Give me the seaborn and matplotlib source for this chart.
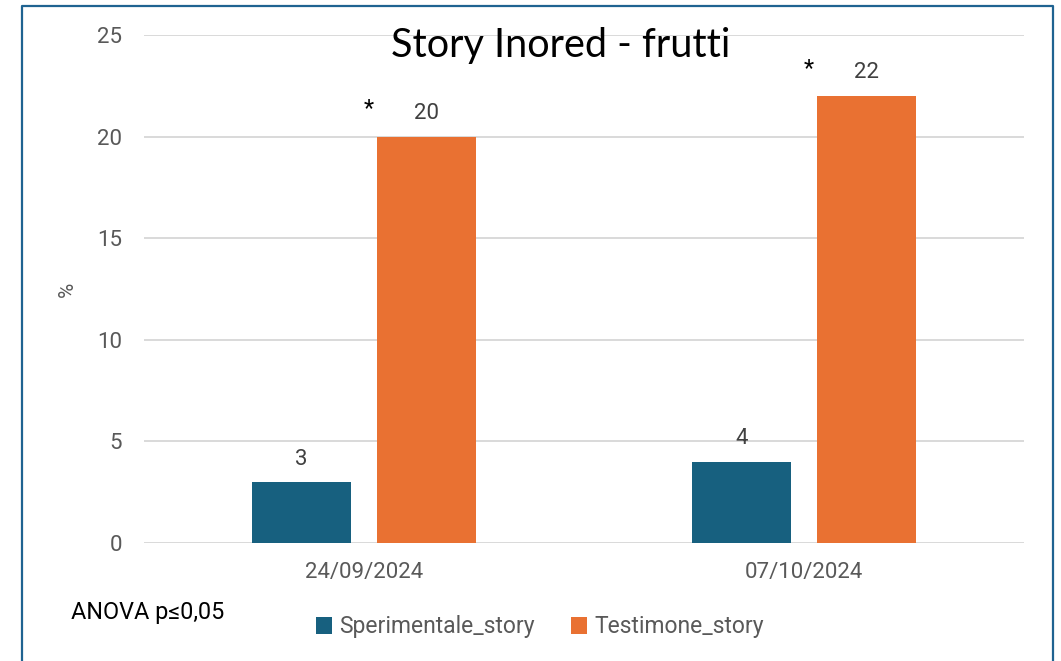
import matplotlib
matplotlib.use("Agg")
import matplotlib.pyplot as plt
from matplotlib.lines import Line2D
import seaborn as sns
import pandas as pd

# ---- data ----
dates = ["24/09/2024", "07/10/2024"]
series = ["Sperimentale_story", "Testimone_story"]
sperimentale = [3, 4]
testimone = [20, 22]
significance = ["*", "*"]
title = "Story Inored - frutti"
y_label = "%"
note = "ANOVA p\u22640,05"
colors = ["#17607F", "#E97132"]

df = pd.DataFrame({
    "Data": dates * 2,
    "Valore": sperimentale + testimone,
    "Serie": [series[0]] * len(dates) + [series[1]] * len(dates),
})

sns.set_theme(style="white")
plt.rcParams["font.family"] = ["Roboto", "DejaVu Sans"]

W, H = 1061, 661
fig = plt.figure(figsize=(W / 100, H / 100), dpi=100)
ax = fig.add_axes([144 / W, 1 - 543 / H, (1024 - 144) / W, (543 - 35) / H])

sns.barplot(data=df, x="Data", y="Valore", hue="Serie", palette=colors,
            width=0.568, gap=0.208, ax=ax, saturation=1, legend=True,
            linewidth=0)

ax.set_xlim(-0.5, 1.5)
ax.set_ylim(0, 25)
ax.set_yticks([0, 5, 10, 15, 20, 25])
ax.yaxis.grid(True, color="#D9D9D9", lw=1.4)
ax.set_axisbelow(True)
for s in ax.spines.values():
    s.set_visible(False)
ax.tick_params(axis="both", length=0, labelsize=16, colors="#595959")
ax.tick_params(axis="y", pad=16)
ax.tick_params(axis="x", pad=14)
ax.set_xlabel("")
ax.set_ylabel(y_label, fontsize=15, color="#595959", labelpad=14)

for cont in ax.containers:
    ax.bar_label(cont, fmt="%g", padding=9, fontsize=16, color="#404040")

# significance asterisks next to the Testimone bars
orange = ax.containers[1]
for bar, sig in zip(orange.patches, significance):
    ax.annotate(sig, xy=(bar.get_x(), bar.get_height()), xytext=(-6, 20),
                textcoords="offset points", ha="center", va="center",
                fontsize=17, color="black")

leg = ax.get_legend()
handles = leg.legend_handles
leg.remove()
fig.legend(handles, series, loc="center", bbox_to_anchor=(540 / W, 1 - 627 / H),
           ncol=2, frameon=False, fontsize=16.5, labelcolor="#595959",
           handlelength=0.7, handleheight=0.7, handletextpad=0.3,
           columnspacing=1.6)

fig.text(561 / W, 1 - 45 / H, title, ha="center", va="center", fontsize=28.5,
         family=["Lato", "DejaVu Sans"], color="black")
fig.text(71 / W, 1 - 613 / H, note, ha="left", va="center", fontsize=16.8,
         color="black")

# chart frame
fig.add_artist(Line2D([22 / W, 22 / W, 1053 / W, 1053 / W],
                      [0, 1 - 5.5 / H, 1 - 5.5 / H, 0],
                      transform=fig.transFigure, color="#1F6391", lw=1.6))

fig.savefig("out.png", dpi=100)
